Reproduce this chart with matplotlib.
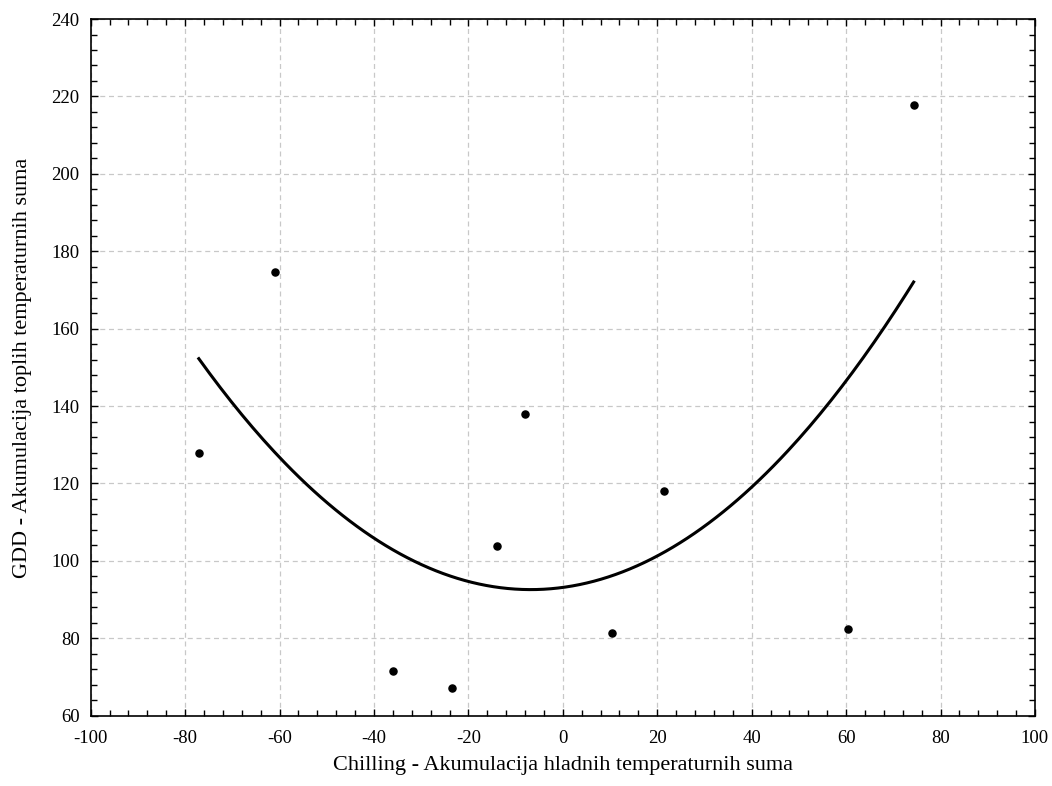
import numpy as np
import matplotlib
matplotlib.use("Agg")
import matplotlib.pyplot as plt
from matplotlib.ticker import MultipleLocator

# values
chilling = [-77.1, -61.0, -36.0, -23.4, -13.9, -8.0, 10.4, 21.4, 60.3, 74.3]
gdd = [128.0, 174.6, 71.5, 67.1, 103.8, 137.9, 81.3, 118.1, 82.3, 217.7]

x_label = "Chilling - Akumulacija hladnih temperaturnih suma"
y_label = "GDD - Akumulacija toplih temperaturnih suma"

plt.rcParams['font.family'] = ['Liberation Serif', 'DejaVu Serif']
plt.rcParams['axes.unicode_minus'] = False

x = np.asarray(chilling)
y = np.asarray(gdd)

# quadratic least-squares fit, as in the original
coef = np.polyfit(x, y, 2)
xs = np.linspace(x.min(), x.max(), 200)
ys = np.polyval(coef, xs)

fig = plt.figure(figsize=(10.52, 7.86), dpi=100)
ax = fig.add_axes([0.0862, 0.0894, 0.8976, 0.8864])

ax.plot(xs, ys, color='black', lw=2.2, zorder=3)
ax.scatter(x, y, s=26, color='black', zorder=4)

ax.set_xlim(-100, 100)
ax.set_ylim(60, 240)
ax.xaxis.set_major_locator(MultipleLocator(20))
ax.xaxis.set_minor_locator(MultipleLocator(4))
ax.yaxis.set_major_locator(MultipleLocator(20))
ax.yaxis.set_minor_locator(MultipleLocator(4))

ax.tick_params(which='both', direction='in', top=True, right=True, width=1.0)
ax.tick_params(which='major', length=5, labelsize=13.5)
ax.tick_params(which='minor', length=4)
ax.tick_params(axis='x', which='major', pad=10)
ax.tick_params(axis='y', which='major', pad=8)

ax.grid(True, which='major', color='#c8c8c8', linestyle=(0, (4, 3)), lw=0.9)
ax.set_axisbelow(True)
for sp in ax.spines.values():
    sp.set_linewidth(1.2)

ax.set_xlabel(x_label, fontsize=16, labelpad=7)
ax.set_ylabel(y_label, fontsize=16, labelpad=14)

fig.savefig("out.png", dpi=100)
